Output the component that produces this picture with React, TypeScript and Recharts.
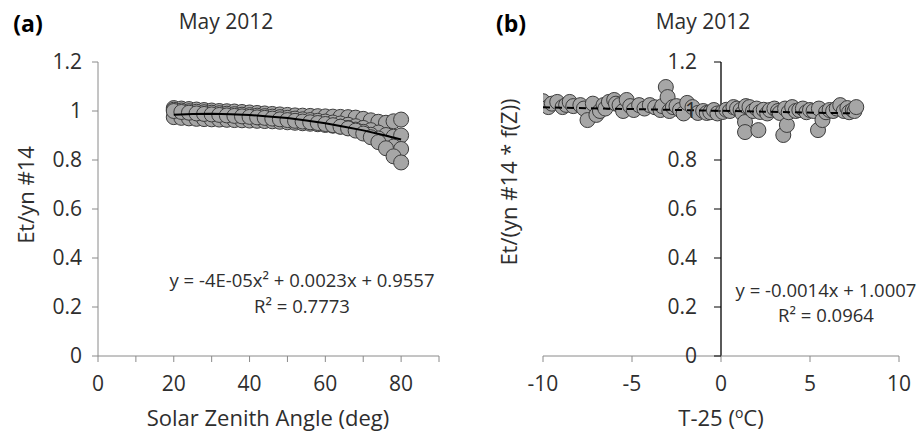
import React from 'react'
import { ScatterChart, Scatter, XAxis, YAxis, ReferenceLine } from 'recharts'

const FONT = '"Open Sans", Lato, sans-serif'
const TEXT = '#2e2e2e'
const AXIS = '#8a8a8a'

// (a) Et/yn #14 against solar zenith angle, several days on top of each other
const sza = [20, 22, 24, 26, 28, 30, 32, 34, 36, 38, 40, 42, 44, 46, 48, 50, 52, 54, 56, 58, 60, 62, 64, 66, 68, 70, 72, 74, 76, 78, 80]
const dayA = [1.012, 1.01, 1.008, 1.006, 1.004, 1.002, 1.0, 0.999, 0.998, 0.996, 0.994, 0.992, 0.99, 0.988, 0.986, 0.984, 0.982, 0.981, 0.98, 0.979, 0.978, 0.977, 0.976, 0.975, 0.973, 0.968, 0.962, 0.956, 0.952, 0.958, 0.965]
const dayB = [1.005, 1.002, 0.999, 0.997, 0.995, 0.993, 0.991, 0.989, 0.987, 0.985, 0.983, 0.981, 0.979, 0.977, 0.975, 0.972, 0.969, 0.966, 0.963, 0.96, 0.957, 0.953, 0.949, 0.944, 0.938, 0.931, 0.922, 0.912, 0.902, 0.895, 0.9]
const dayC = [0.975, 0.972, 0.97, 0.968, 0.967, 0.966, 0.965, 0.964, 0.963, 0.962, 0.961, 0.96, 0.959, 0.958, 0.956, 0.954, 0.952, 0.95, 0.948, 0.946, 0.943, 0.94, 0.936, 0.931, 0.924, 0.915, 0.903, 0.888, 0.87, 0.855, 0.845]
const dayD = [1.0, 0.996, 0.993, 0.99, 0.988, 0.986, 0.984, 0.982, 0.98, 0.978, 0.976, 0.974, 0.972, 0.969, 0.966, 0.963, 0.96, 0.957, 0.954, 0.951, 0.947, 0.942, 0.936, 0.929, 0.92, 0.908, 0.893, 0.873, 0.848, 0.815, 0.79]

// polynomial trend line
const fitSza = [20, 25, 30, 35, 40, 45, 50, 55, 60, 65, 70, 75, 80]
const fitA = [0.985, 0.988, 0.989, 0.987, 0.984, 0.978, 0.971, 0.961, 0.95, 0.936, 0.921, 0.903, 0.884]

// (b) Et/(yn #14 * f(Z)) against T-25
const tempX = [
  -10.0, -9.7, -9.5, -9.2, -8.9, -8.7, -8.5, -8.3, -7.9, -7.7, -7.5, -7.2, -7.0, -6.8, -6.6, -6.5, -6.3, -6.0, -5.9, -5.7,
  -5.5, -5.3, -5.1, -4.9, -4.6, -4.3, -4.0, -3.7, -3.4, -3.3, -3.1, -3.0, -2.9, -2.7, -2.5, -2.3, -2.1, -1.9, -1.6, -1.3,
  -1.0, -0.8, -0.6, -0.4, -0.2, 0.1, 0.3, 0.5, 0.7, 0.9, 1.1, 1.2, 1.35, 1.35, 1.4, 1.6, 1.8, 2.0, 2.1, 2.2,
  2.4, 2.6, 2.75, 3.0, 3.2, 3.3, 3.5, 3.6, 3.7, 3.8, 4.0, 4.2, 4.4, 4.6, 4.8, 5.0, 5.2, 5.45, 5.5, 5.7,
  5.9, 6.1, 6.3, 6.5, 6.7, 6.9, 7.1, 7.2, 7.4, 7.5, 7.6,
]
const ratioB = [
  1.04, 1.016, 1.03, 1.037, 1.016, 1.025, 1.037, 1.02, 1.024, 1.01, 0.963, 1.03, 0.984, 1.0, 1.024, 1.01, 1.037, 1.045, 1.03, 1.024,
  1.0, 1.045, 1.02, 1.004, 1.024, 1.01, 1.024, 1.015, 1.004, 1.02, 1.098, 1.057, 1.0, 1.016, 1.02, 1.004, 0.99, 1.033, 1.016, 0.992,
  1.0, 0.992, 0.995, 1.004, 0.99, 0.996, 1.005, 1.0, 1.016, 1.01, 1.004, 0.99, 0.955, 0.914, 1.02, 1.016, 1.0, 1.01, 0.922, 0.996,
  1.005, 0.99, 1.004, 1.01, 1.0, 0.992, 0.902, 1.01, 0.943, 0.995, 1.016, 1.0, 1.004, 1.01, 0.995, 1.004, 1.0, 0.922, 1.01, 0.963,
  0.995, 1.004, 1.0, 1.01, 1.024, 1.0, 1.012, 0.995, 1.004, 1.0, 1.016,
]
const fitT = [-10, 7.5]
const fitB = [1.015, 0.99]

const yTicks = [0, 0.2, 0.4, 0.6, 0.8, 1, 1.2]
const szaTicks = [0, 10, 20, 30, 40, 50, 60, 70, 80, 90]
const tTicks = [-10, -5, 0, 5, 10]

const days = [dayA, dayB, dayC, dayD].map((ys) => sza.map((x, i) => ({ x, y: ys[i] })))
const fitLineA = fitSza.map((x, i) => ({ x, y: fitA[i] }))
const pointsB = tempX.map((x, i) => ({ x, y: ratioB[i] }))
const fitLineB = fitT.map((x, i) => ({ x, y: fitB[i] }))

const fmtY = (v: number) => String(Number(v.toFixed(1)))

const Dot = (p: any) => (
  <circle cx={p.cx} cy={p.cy} r={7.5} fill="#a6a6a6" stroke="#3c3c3c" strokeWidth={1} />
)
const NoDot = () => <g />

const tickStyle = { fontFamily: FONT, fontSize: 21, fill: TEXT }

// chart (b) layout: its y axis sits at x = 0, in the middle of the plot
const B_W = 462
const B_YAXIS_W = 10
const B_MARGIN = { top: 62, right: 23, bottom: 47, left: 83 - B_YAXIS_W }
const B_LEFT = B_MARGIN.left + B_YAXIS_W
const B_PLOT_W = B_W - B_LEFT - B_MARGIN.right
const B_ZERO_X = B_LEFT + (B_PLOT_W * (0 - tTicks[0])) / (tTicks[tTicks.length - 1] - tTicks[0])

const CenterTick = (p: any) => (
  <g>
    <line x1={B_ZERO_X - 7} x2={B_ZERO_X} y1={p.y} y2={p.y} stroke="#000" />
    <text x={B_ZERO_X - 24} y={p.y} dy="0.35em" textAnchor="end" style={tickStyle}>
      {fmtY(p.payload.value)}
    </text>
  </g>
)

const Txt = ({ x, y, size = 22, bold = false, rotate = false, children }: any) => (
  <div
    style={{
      position: 'absolute',
      left: x,
      top: y,
      transform: `translate(-50%, -50%)${rotate ? ' rotate(-90deg)' : ''}`,
      whiteSpace: 'nowrap',
      fontFamily: FONT,
      fontSize: size,
      fontWeight: bold ? 700 : 400,
      color: bold ? '#000' : TEXT,
      lineHeight: 1,
    }}
  >
    {children}
  </div>
)

export default function App() {
  return (
    <div style={{ position: 'absolute', left: 0, top: 0, width: 922, height: 433, background: '#fff', overflow: 'hidden' }}>
      <div style={{ position: 'absolute', left: 0, top: 0 }}>
        <ScatterChart width={460} height={433} margin={{ top: 62, right: 21, bottom: 47, left: 38 }}>
          <XAxis
            type="number"
            dataKey="x"
            domain={[0, 90]}
            ticks={szaTicks}
            tickFormatter={(v: number) => (v % 20 === 0 ? String(v) : '')}
            height={30}
            stroke={AXIS}
            tickSize={6}
            tickMargin={14}
            tick={tickStyle}
            allowDataOverflow
          />
          <YAxis
            type="number"
            dataKey="y"
            domain={[0, 1.2]}
            ticks={yTicks}
            tickFormatter={fmtY}
            width={60}
            stroke={AXIS}
            tickSize={6}
            tickMargin={10}
            tick={tickStyle}
            allowDataOverflow
          />
          {days.map((d, i) => (
            <Scatter key={i} data={d} shape={Dot} isAnimationActive={false} />
          ))}
          <Scatter data={fitLineA} line={{ stroke: '#000', strokeWidth: 2 }} shape={NoDot} isAnimationActive={false} />
        </ScatterChart>
      </div>

      <div style={{ position: 'absolute', left: 460, top: 0 }}>
        <ScatterChart width={B_W} height={433} margin={B_MARGIN}>
          <XAxis
            type="number"
            dataKey="x"
            domain={[-10, 10]}
            ticks={tTicks}
            height={30}
            stroke={AXIS}
            tickSize={6}
            tickMargin={14}
            tick={tickStyle}
            allowDataOverflow
          />
          <YAxis
            type="number"
            dataKey="y"
            domain={[0, 1.2]}
            ticks={yTicks}
            width={B_YAXIS_W}
            axisLine={false}
            tickLine={false}
            tick={CenterTick}
            allowDataOverflow
          />
          <ReferenceLine x={0} stroke="#000" strokeWidth={1.3} />
          <Scatter data={pointsB} shape={Dot} isAnimationActive={false} />
          <Scatter
            data={fitLineB}
            line={{ stroke: '#000', strokeWidth: 2, strokeDasharray: '7 5' }}
            shape={NoDot}
            isAnimationActive={false}
          />
        </ScatterChart>
      </div>

      <Txt x={28} y={23} size={23} bold>(a)</Txt>
      <Txt x={226} y={21} size={21}>May 2012</Txt>
      <Txt x={25} y={195} rotate>Et/yn #14</Txt>
      <Txt x={268} y={417}>Solar Zenith Angle (deg)</Txt>
      <Txt x={302} y={280} size={18.5}>y = -4E-05x² + 0.0023x + 0.9557</Txt>
      <Txt x={302} y={306} size={18.5}>R² = 0.7773</Txt>

      <Txt x={511} y={23} size={23} bold>(b)</Txt>
      <Txt x={703} y={21} size={21}>May 2012</Txt>
      <Txt x={508} y={182} rotate>Et/(yn #14 * f(Z))</Txt>
      <Txt x={721} y={417}>
        T-25 (<sup style={{ fontSize: 14 }}>o</sup>C)
      </Txt>
      <Txt x={826} y={290} size={18.5}>y = -0.0014x + 1.0007</Txt>
      <Txt x={826} y={315} size={18.5}>R² = 0.0964</Txt>
    </div>
  )
}
